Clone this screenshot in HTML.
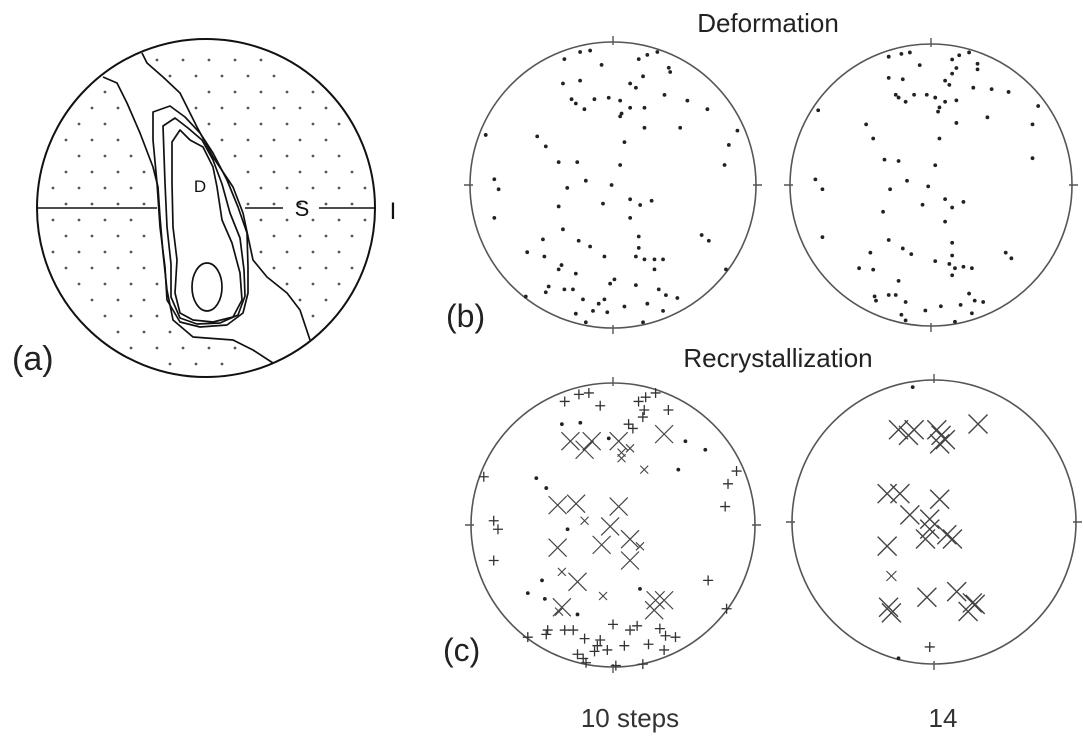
<!DOCTYPE html>
<html><head><meta charset="utf-8"><style>
html,body{margin:0;padding:0;background:#fff;}
svg{display:block;font-family:"Liberation Sans",Arial,sans-serif;}
</style></head><body>
<svg id="fig" width="1083" height="738" viewBox="0 0 1083 738" xmlns="http://www.w3.org/2000/svg">
<rect width="1083" height="738" fill="#fff"/>
<g id="pa"></g>
<g id="nets"></g>
<text x="12" y="370" font-size="34" fill="#222">(a)</text>
<text x="446" y="327" font-size="32" fill="#222">(b)</text>
<text x="443" y="661" font-size="32" fill="#222">(c)</text>
<text x="768" y="32" font-size="26" text-anchor="middle" fill="#222">Deformation</text>
<text x="778" y="367" font-size="26" text-anchor="middle" fill="#222">Recrystallization</text>
<text x="630" y="727" font-size="26" text-anchor="middle" fill="#333">10 steps</text>
<text x="943" y="727" font-size="26" text-anchor="middle" fill="#333">14</text>
</svg>
<script>
// data: normalized projection coords (-100..100) within each net
const bLeftDots=[[-34,-88],[-23,-93],[-16,-94],[-8,-84],[18,-88],[24,-91],[31,-93],[39,-82],[40,-79],[21,-76],[12,-71],[16,-68],[-35,-71],[-23,-73],[36,-63],[52,-59],[-29,-60],[-26,-57],[-20,-53],[-13,-60],[-3,-61],[5,-59],[12,-54],[22,-54],[6,-50],[5,-48],[66,-53],[22,-40],[47,-40],[-89,-35],[-53,-34],[-47,-27],[8,-30],[-38,-16],[-25,-16],[5,-14],[87,-38],[81,-28],[78,-14],[-83,-4],[-80,3],[-19,-3],[-32,2],[-1,0],[12,10],[19,14],[27,11],[-7,13],[-38,15],[12,23],[-83,23],[-35,31],[-49,38],[-24,39],[18,36],[18,44],[-16,43],[-6,50],[16,50],[22,52],[29,52],[35,52],[-60,47],[-48,50],[62,35],[67,39],[-36,56],[-38,59],[-26,62],[29,59],[1,66],[-2,69],[16,70],[-45,71],[-47,75],[-34,73],[-28,73],[32,73],[37,77],[45,79],[79,59],[-61,78],[-21,80],[-10,83],[-6,80],[-14,88],[-4,89],[8,85],[24,83],[35,88],[-26,90],[-19,96],[21,96]];
const bRightDots=[[-30,-91],[-21,-93],[-15,-94],[-8,-85],[15,-89],[20,-92],[27,-94],[33,-86],[33,-82],[18,-83],[15,-79],[-30,-76],[-20,-75],[10,-74],[13,-71],[30,-69],[43,-68],[55,-66],[-25,-64],[-23,-62],[-18,-59],[-12,-64],[-3,-64],[3,-62],[10,-59],[18,-60],[6,-55],[5,-52],[76,-56],[-80,-53],[40,-48],[18,-44],[-46,-43],[72,-43],[-41,-33],[6,-33],[-33,-18],[-23,-17],[3,-14],[72,-19],[-82,-4],[-77,3],[-17,-3],[-29,3],[-2,1],[10,10],[23,12],[-6,14],[15,16],[-34,19],[10,26],[-77,37],[-30,39],[15,41],[-20,45],[-14,49],[15,50],[-43,48],[3,54],[13,56],[17,59],[23,58],[29,59],[15,64],[53,48],[57,52],[-51,59],[-41,60],[-23,68],[-40,79],[-30,78],[-25,78],[-39,82],[-18,83],[7,86],[21,85],[27,77],[31,82],[37,83],[29,91],[17,97],[-21,92],[-18,96],[-4,89]];
const cLeftPlus=[[-34,-87],[-24,-92],[-17,-93],[-9,-84],[18,-87],[23,-90],[30,-93],[39,-81],[22,-81],[21,-76],[11,-71],[14,-68],[-91,-34],[87,-38],[81,-29],[79,-13],[-84,-3],[-81,3],[-84,25],[67,39],[80,59],[-46,74],[-47,77],[-34,74],[-28,74],[-20,80],[-9,81],[-11,85],[-4,88],[-13,89],[8,85],[25,84],[12,74],[17,71],[33,73],[37,78],[44,79],[-25,91],[-21,94],[-19,97],[2,99],[21,98],[36,88],[-60,79],[0,70]];
const cLeftBigX=[[-30,-59],[-20,-53],[-15,-59],[4,-59],[36,-64],[-39,-14],[-26,-15],[4,-13],[-2,1],[-39,16],[-8,14],[12,10],[12,25],[-25,40],[30,53],[36,53],[29,60],[-36,58]];
const cLeftSmallX=[[12,-54],[6,-51],[6,-47],[19,15],[-36,33],[-38,61],[22,-39],[-20,-3],[-7,50]];
const cLeftDots=[[-36,-71],[-23,-72],[51,-59],[65,-53],[46,-39],[-54,-33],[-47,-26],[-32,3],[-50,39],[-60,48],[-48,52],[-25,63],[19,45],[-3,-61]];
const cRightBigX=[[-25,-65],[-18,-61],[-14,-65],[2,-65],[5,-61],[4,-55],[8,-58],[31,-69],[-33,-20],[-24,-20],[4,-16],[-17,-5],[-3,-2],[-3,5],[9,9],[-6,12],[13,12],[-33,17],[-30,64],[-32,60],[-5,53],[16,49],[27,57],[24,63],[29,58]];
const cRightSmallX=[[-30,38]];
const cRightPlus=[[-3,88]];
const cRightDots=[[-15,-95],[-25,96]];

const NS='http://www.w3.org/2000/svg';
function mk(tag,attrs,parent){const e=document.createElementNS(NS,tag);for(const k in attrs)e.setAttribute(k,attrs[k]);parent.appendChild(e);return e;}
const nets=document.getElementById('nets');
function net(cx,cy,r,name){
  const g=mk('g',{},nets);
  
  
  const c=mk('circle',{cx:cx,cy:cy,r:r,fill:'none',stroke:'#555','stroke-width':1.6},g);
  
  
  const t=mk('path',{d:`M${cx} ${cy-r-6}V${cy-r+3}M${cx} ${cy+r-3}V${cy+r+6}M${cx-r-6} ${cy}H${cx-r+3}M${cx+r-3} ${cy}H${cx+r+6}`,stroke:'#555','stroke-width':1.4},g);
  
  
  return {g:g,sx:v=>cx+v/100*r,sy:v=>cy+v/100*r};
}
function dots(n,arr){arr.forEach(p=>{const e=mk('circle',{cx:n.sx(p[0]),cy:n.sy(p[1]),r:1.9,fill:'#222'},n.g);
  
  });}
function cross(n,arr,s,w,name){arr.forEach(p=>{const x=n.sx(p[0]),y=n.sy(p[1]);const e=mk('path',{d:`M${x-s} ${y-s}L${x+s} ${y+s}M${x+s} ${y-s}L${x-s} ${y+s}`,stroke:'#444','stroke-width':w,fill:'none'},n.g);
  
  });}
function plus(n,arr){arr.forEach(p=>{const x=n.sx(p[0]),y=n.sy(p[1]);const e=mk('path',{d:`M${x-5} ${y}H${x+5}M${x} ${y-5}V${y+5}`,stroke:'#333','stroke-width':1.3},n.g);
  
  });}

const nbl=net(613,185,143,'deformation-10-steps-net'); dots(nbl,bLeftDots);
const nbr=net(931,185,141,'deformation-14-steps-net'); dots(nbr,bRightDots);
const ncl=net(613,525,142,'recrystallization-10-steps-net');
plus(ncl,cLeftPlus); cross(ncl,cLeftBigX,9,1.2,'large-x-marker'); cross(ncl,cLeftSmallX,4,1.1,'small-x-marker'); dots(ncl,cLeftDots);
const ncr=net(934,522,142,'recrystallization-14-steps-net');
cross(ncr,cRightBigX,9.5,1.4,'large-x-marker'); cross(ncr,cRightSmallX,5,1.1,'small-x-marker'); plus(ncr,cRightPlus); dots(ncr,cRightDots);

// panel (a)
const pa=document.getElementById('pa');
const A={cx:206,cy:208,r:169};
const leftBand=[[103,77],[117,83],[127,103],[140,133],[153,167],[158,187],[160,217],[163,253],[167,290],[173,320],[193,337],[233,340],[253,350],[273,363]];
const rightBand=[[142,53],[147,63],[163,77],[180,93],[197,127],[213,157],[233,187],[243,213],[253,260],[267,277],[287,293],[300,310],[310,340]];
function interp(line,y){if(y<=line[0][1])return line[0][0];for(let i=1;i<line.length;i++){if(y<=line[i][1]){const a=line[i-1],b=line[i];return a[0]+(b[0]-a[0])*(y-a[1])/(b[1]-a[1]);}}return line[line.length-1][0];}
for(let row=0;row*16<360;row++){const y=44+row*16;for(let x=40+(row%2)*13;x<375;x+=26){
  if(Math.hypot(x-A.cx,y-A.cy)>A.r-8)continue;
  const xl=interp(leftBand,y),xr=interp(rightBand,y);
  if(y>45&&y<372&&x>xl-6&&x<xr+6)continue;
  const e=mk('circle',{cx:x,cy:y,r:1.4,fill:'#555'},pa);
  
  }}
const poly=pts=>pts.map((p,i)=>(i?'L':'M')+p[0]+' '+p[1]).join('');
const contours=[
 poly(leftBand),poly(rightBand),
 poly([[153,112],[170,106],[185,117],[200,133],[213,153],[227,180],[238,207],[247,233],[248,267],[248,293],[243,313],[227,325],[200,327],[180,322],[167,300],[165,267],[160,227],[157,183],[153,140]])+'Z',
 poly([[163,126],[175,118],[188,128],[202,140],[213,160],[222,184],[230,213],[240,238],[244,270],[245,296],[238,315],[220,323],[197,324],[180,318],[171,297],[171,264],[167,227],[165,183]])+'Z',
 poly([[172,142],[180,130],[190,140],[203,147],[213,167],[217,187],[222,220],[232,243],[240,273],[242,300],[233,317],[213,322],[193,320],[180,313],[175,293],[177,260],[173,227],[172,183]])+'Z'
];
contours.forEach(d=>{const e=mk('path',{d:d,fill:'none',stroke:'#111','stroke-width':1.7,'stroke-linejoin':'round'},pa);
  
  });
const el=mk('ellipse',{cx:207,cy:287,rx:15,ry:24,fill:'none',stroke:'#111','stroke-width':1.7},pa);


const oc=mk('circle',{cx:A.cx,cy:A.cy,r:A.r,fill:'none',stroke:'#111','stroke-width':2},pa);


const ln=mk('path',{d:'M38 208H157M245 208H283M319 208H375',stroke:'#111','stroke-width':1.6},pa);


const ts=mk('text',{x:302,y:216,'font-size':22,'text-anchor':'middle',fill:'#111'},pa);ts.textContent='S';


const ti=mk('text',{x:393,y:219,'font-size':24,'text-anchor':'middle',fill:'#111'},pa);ti.textContent='I';


const td=mk('text',{x:200,y:192,'font-size':17,'text-anchor':'middle',fill:'#111'},pa);td.textContent='D';


</script>
</body></html>
